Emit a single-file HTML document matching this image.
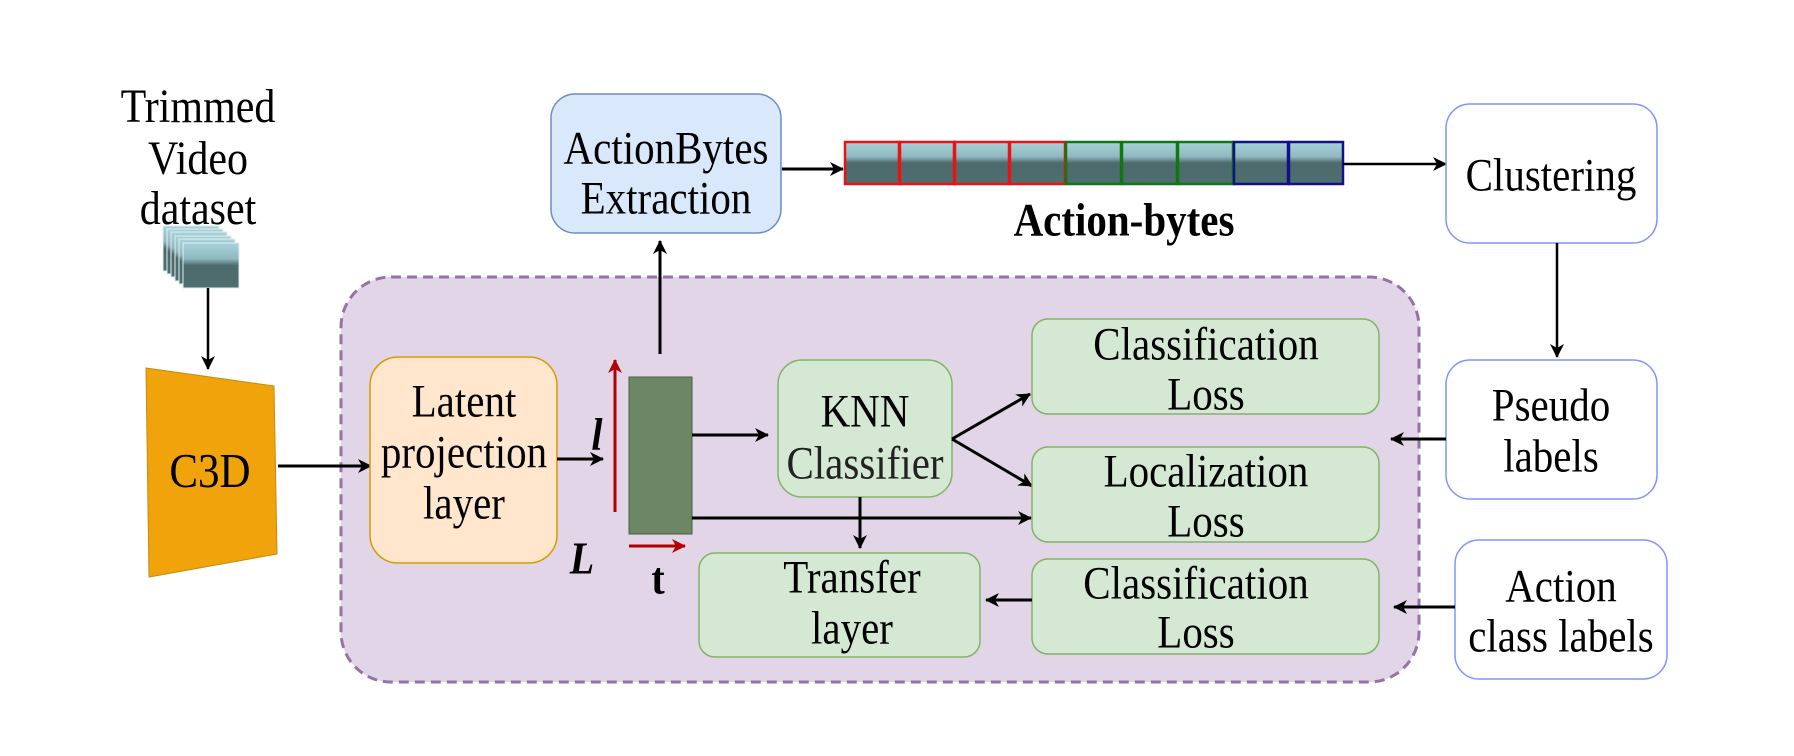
<!DOCTYPE html>
<html><head><meta charset="utf-8"><style>
html,body{margin:0;padding:0;background:#fff;}
svg{display:block;}
text{font-family:"Liberation Serif",serif;font-size:41px;fill:#000;text-anchor:middle;transform-box:fill-box;transform-origin:center;transform:scaleY(1.13);}
</style></head><body>
<svg width="1794" height="756" viewBox="0 0 1794 756" xmlns="http://www.w3.org/2000/svg">
<defs>
<marker id="ah" markerWidth="14" markerHeight="14" refX="13" refY="7" orient="auto" markerUnits="userSpaceOnUse" viewBox="0 0 14 14">
<path d="M0,0 L14,7 L0,14 L4,7 Z" fill="#000"/></marker>
<marker id="ahr" markerWidth="14" markerHeight="14" refX="13" refY="7" orient="auto" markerUnits="userSpaceOnUse" viewBox="0 0 14 14">
<path d="M0,0 L14,7 L0,14 L4,7 Z" fill="#b20000"/></marker>
<linearGradient id="fr" x1="0" y1="0" x2="0" y2="1">
<stop offset="0" stop-color="#a8d2da"/><stop offset="0.35" stop-color="#8fb8c0"/><stop offset="0.5" stop-color="#4d6a6c"/><stop offset="1" stop-color="#4e6e70"/></linearGradient>
</defs>

<rect x="341" y="277" width="1078" height="405" rx="50" ry="50" fill="#e1d5e7" stroke="#9673a6" stroke-width="3" stroke-dasharray="10,6"/>

<text x="198" y="120" style="font-size:42px">Trimmed</text>
<text x="198" y="172" style="font-size:42px">Video</text>
<text x="198" y="222" style="font-size:42px">dataset</text>
<g stroke="#e0eef0" stroke-width="1">
<rect x="163" y="226" width="56" height="45" fill="url(#fr)"/>
<rect x="167" y="229" width="56" height="45" fill="url(#fr)"/>
<rect x="171" y="232" width="56" height="45" fill="url(#fr)"/>
<rect x="175" y="236" width="56" height="45" fill="url(#fr)"/>
<rect x="179" y="239" width="56" height="45" fill="url(#fr)"/>
<rect x="183" y="243" width="56" height="45" fill="url(#fr)"/>
</g>
<line x1="208" y1="288" x2="208" y2="369" stroke="#000" stroke-width="2.5" marker-end="url(#ah)"/>

<polygon points="146,368 274,386 277,554 149,577" fill="#f0a30a" stroke="#c48a10" stroke-width="1"/>
<text x="210" y="485" style="font-size:43px">C3D</text>
<line x1="278" y1="466" x2="371" y2="466" stroke="#000" stroke-width="3" marker-end="url(#ah)"/>

<rect x="370" y="357" width="187" height="206" rx="28" fill="#ffe6cc" stroke="#d79b00" stroke-width="1.5"/>
<text x="464" y="415">Latent</text>
<text x="464" y="466">projection</text>
<text x="464" y="517">layer</text>
<line x1="557" y1="459" x2="603" y2="459" stroke="#000" stroke-width="3" marker-end="url(#ah)"/>
<text x="597" y="448" style="font-weight:bold;font-style:italic;font-size:40px">l</text>
<text x="582" y="572" style="font-weight:bold;font-style:italic;font-size:40px">L</text>
<text x="658" y="592" style="font-weight:bold;font-size:40px">t</text>

<line x1="615" y1="512" x2="615" y2="360" stroke="#b20000" stroke-width="3" marker-end="url(#ahr)"/>
<line x1="629" y1="546" x2="685" y2="546" stroke="#b20000" stroke-width="3" marker-end="url(#ahr)"/>

<rect x="629" y="377" width="63" height="157" fill="#6d8764" stroke="#4a5e44" stroke-width="1"/>
<line x1="660" y1="354" x2="660" y2="241" stroke="#000" stroke-width="3" marker-end="url(#ah)"/>
<line x1="692" y1="435" x2="768" y2="435" stroke="#000" stroke-width="3" marker-end="url(#ah)"/>
<line x1="692" y1="518" x2="1031" y2="518" stroke="#000" stroke-width="3" marker-end="url(#ah)"/>

<rect x="551" y="94" width="230" height="139" rx="24" fill="#dae8fc" stroke="#6c8ebf" stroke-width="1.5"/>
<text x="666" y="162">ActionBytes</text>
<text x="666" y="212">Extraction</text>
<line x1="782" y1="169" x2="843" y2="169" stroke="#000" stroke-width="3" marker-end="url(#ah)"/>

<g stroke-width="2.5">
<rect x="845" y="142" width="54" height="42" fill="url(#fr)" stroke="#ee1111"/>
<rect x="900" y="142" width="54" height="42" fill="url(#fr)" stroke="#ee1111"/>
<rect x="955" y="142" width="54" height="42" fill="url(#fr)" stroke="#ee1111"/>
<rect x="1010" y="142" width="55" height="42" fill="url(#fr)" stroke="#ee1111"/>
<rect x="1066" y="142" width="55" height="42" fill="url(#fr)" stroke="#117711"/>
<rect x="1122" y="142" width="55" height="42" fill="url(#fr)" stroke="#117711"/>
<rect x="1178" y="142" width="55" height="42" fill="url(#fr)" stroke="#117711"/>
<rect x="1234" y="142" width="54" height="42" fill="url(#fr)" stroke="#11118a"/>
<rect x="1289" y="142" width="54" height="42" fill="url(#fr)" stroke="#11118a"/>
</g>
<text x="1124" y="234" style="font-weight:bold;font-size:41px">Action-bytes</text>
<line x1="1343" y1="164" x2="1446" y2="164" stroke="#000" stroke-width="2.5" marker-end="url(#ah)"/>

<rect x="1446" y="104" width="211" height="139" rx="24" fill="#fff" stroke="#7d96ff" stroke-width="1.5"/>
<text x="1551" y="189">Clustering</text>
<line x1="1557" y1="243" x2="1557" y2="357" stroke="#000" stroke-width="2.5" marker-end="url(#ah)"/>

<rect x="1446" y="360" width="211" height="139" rx="24" fill="#fff" stroke="#7d96ff" stroke-width="1.5"/>
<text x="1551" y="419">Pseudo</text>
<text x="1551" y="470">labels</text>
<line x1="1446" y1="439" x2="1391" y2="439" stroke="#000" stroke-width="3" marker-end="url(#ah)"/>

<rect x="1455" y="540" width="212" height="139" rx="24" fill="#fff" stroke="#7d96ff" stroke-width="1.5"/>
<text x="1561" y="600">Action</text>
<text x="1561" y="650">class labels</text>
<line x1="1455" y1="607" x2="1394" y2="607" stroke="#000" stroke-width="3" marker-end="url(#ah)"/>

<rect x="778" y="360" width="174" height="137" rx="24" fill="#d5e8d4" stroke="#82b366" stroke-width="1.5"/>
<text x="865" y="425">KNN</text>
<text x="865" y="477" style="fill:#222">Classifier</text>
<line x1="952" y1="439" x2="1030" y2="394" stroke="#000" stroke-width="3" marker-end="url(#ah)"/>
<line x1="952" y1="439" x2="1032" y2="486" stroke="#000" stroke-width="3" marker-end="url(#ah)"/>
<line x1="860" y1="497" x2="860" y2="548" stroke="#000" stroke-width="3" marker-end="url(#ah)"/>

<rect x="1032" y="319" width="347" height="95" rx="16" fill="#d5e8d4" stroke="#82b366" stroke-width="1.5"/>
<text x="1206" y="358">Classification</text>
<text x="1206" y="408">Loss</text>
<rect x="1032" y="447" width="347" height="95" rx="16" fill="#d5e8d4" stroke="#82b366" stroke-width="1.5"/>
<text x="1206" y="485">Localization</text>
<text x="1206" y="535">Loss</text>
<rect x="1032" y="559" width="347" height="95" rx="16" fill="#d5e8d4" stroke="#82b366" stroke-width="1.5"/>
<text x="1196" y="597">Classification</text>
<text x="1196" y="646">Loss</text>
<line x1="1032" y1="600" x2="986" y2="600" stroke="#000" stroke-width="3" marker-end="url(#ah)"/>

<rect x="699" y="553" width="281" height="104" rx="16" fill="#d5e8d4" stroke="#82b366" stroke-width="1.5"/>
<text x="852" y="591">Transfer</text>
<text x="852" y="642">layer</text>
</svg>
</body></html>
